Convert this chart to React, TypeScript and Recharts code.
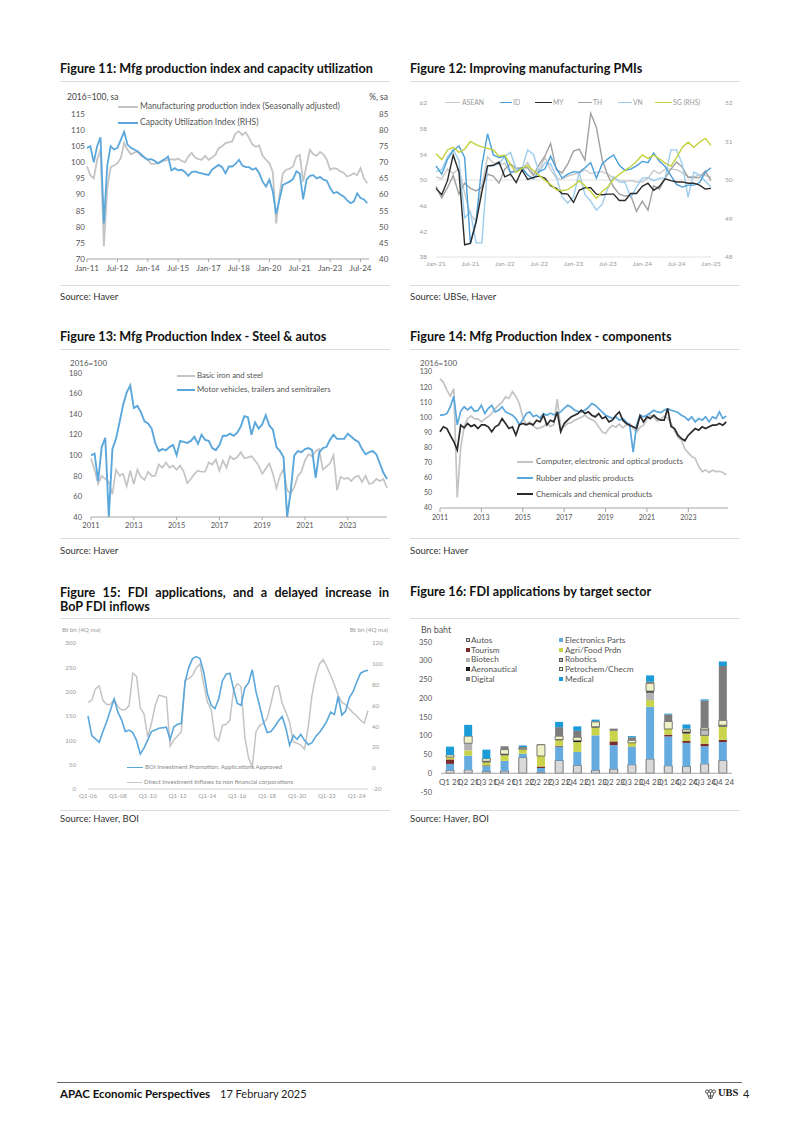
import React from "react";
import { LineChart, Line, BarChart, Bar, XAxis, YAxis, ReferenceLine } from "recharts";

const FONT = "Lato, 'Open Sans', 'DejaVu Sans', sans-serif";

// ---------- Figure 11: bi-monthly points, Jan-11 .. Nov-24 ----------
const fig11Mfg = [
  98.7, 96, 95, 100.8, 104, 74, 92, 98.5, 99, 99.7, 101.3, 106, 103.9, 102.5, 103, 103.4, 102, 101.5, 100.8, 99.5,
  99.5, 99.8, 100.3, 100.5, 100.8, 101, 100.8, 101.2, 100.5, 100, 101.8, 102.9, 101.5, 101, 100.8, 102, 100.8, 101.5, 102.3, 104.4,
  105, 106, 106.2, 106.5, 109, 109.6, 108.5, 109.3, 107.5, 105.5, 104.8, 105.2, 102, 100.8, 99.7, 97, 81, 90, 96.6, 97.7,
  98, 98.7, 101.8, 102.3, 94, 99, 103.9, 102.5, 102, 103.2, 102.5, 100.8, 97.7, 98.2, 98, 97.2, 96.8, 95.6, 96, 96.6,
  96, 98.2, 95, 93.5,
];
const fig11CapUtil = [
  74.5, 75, 70, 75, 77.8, 51, 69, 75, 74, 74.5, 77, 79.5, 75.5, 74.5, 74, 73.4, 72.5, 71.5, 70.8, 71,
  70.5, 69.7, 70.3, 71, 71.8, 67.5, 68.2, 67.5, 67.7, 67, 65.8, 67, 67.2, 66.8, 66.6, 66.3, 66.1, 67.7, 68.5, 69.2,
  68.5, 66.6, 68.7, 68.7, 69.5, 70.8, 69, 68.5, 68.5, 67.7, 68.2, 66.6, 64, 62.5, 64.6, 61, 54, 58.5, 63, 63.5,
  64, 64.8, 67.2, 66.5, 58.5, 64.6, 65.8, 66, 65, 65.5, 64.6, 64.3, 62, 60.4, 60.8, 60, 59.4, 58.3, 57.3, 57.8,
  60.4, 58.9, 58.5, 57.3,
];
const fig11Ticks = [0, 18, 36, 54, 72, 90, 108, 126, 144, 162];
const fig11TickLabels = ["Jan-11", "Jul-12", "Jan-14", "Jul-15", "Jan-17", "Jul-18", "Jan-20", "Jul-21", "Jan-23", "Jul-24"];

// ---------- Figure 12: monthly PMIs, Jan-21 .. Jan-25 ----------
const fig12Asean = [
  50.5, 50.2, 51.7, 51.0, 51.8, 48.0, 44.6, 43.6, 49.1, 53.6, 52.7, 52.4,
  52.6, 51.0, 51.9, 51.6, 52.8, 50.9, 51.6, 53.5, 51.6, 50.3, 50.1, 50.6,
  50.9, 51.1, 51.6, 51.0, 51.2, 51.3, 50.9, 50.3, 49.9, 49.8, 49.9, 49.7,
  49.7, 50.3, 51.5, 51.0, 51.7, 51.7, 51.6, 51.1, 50.5, 50.5, 50.8, 50.7, 50.4,
];
const fig12Id = [
  52.2, 50.9, 53.2, 54.6, 55.3, 53.5, 40.1, 43.7, 52.2, 57.2, 53.9, 53.5,
  53.7, 51.2, 51.3, 51.9, 50.8, 50.2, 51.3, 51.7, 53.7, 51.8, 50.3, 50.9,
  51.3, 51.2, 51.9, 52.7, 50.3, 52.5, 53.3, 53.9, 52.3, 51.5, 51.7, 52.2,
  52.9, 52.7, 54.2, 52.9, 52.1, 50.7, 49.3, 48.9, 49.2, 49.2, 49.6, 51.2, 51.9,
];
const fig12My = [
  48.7, 47.7, 49.9, 53.9, 51.3, 39.9, 40.1, 43.4, 48.1, 52.2, 52.3, 52.8,
  50.5, 50.9, 49.6, 51.6, 50.1, 50.4, 50.6, 50.3, 49.1, 48.7, 47.9, 47.8,
  46.5, 48.4, 48.8, 48.8, 47.8, 47.7, 47.8, 47.8, 46.8, 46.8, 47.9, 47.9,
  49.0, 49.5, 48.4, 49.0, 50.2, 49.9, 49.7, 49.7, 49.5, 49.5, 49.2, 48.6, 48.7,
];
const fig12Th = [
  49.0, 47.2, 48.8, 50.7, 47.8, 49.5, 48.7, 48.3, 48.9, 50.9, 50.6, 49.5,
  51.7, 52.5, 51.8, 51.9, 51.9, 50.7, 52.4, 53.7, 55.7, 51.6, 51.1, 52.5,
  54.5, 54.8, 53.1, 60.4, 58.2, 53.2, 50.7, 48.9, 47.8, 47.5, 47.6, 45.1,
  46.7, 45.3, 49.1, 48.6, 50.3, 51.7, 52.8, 52.0, 50.4, 50.4, 50.4, 51.4, 49.9,
];
const fig12Vn = [
  51.3, 51.6, 53.6, 54.7, 53.1, 44.1, 45.1, 40.2, 40.2, 52.1, 52.2, 52.5,
  53.7, 54.3, 51.7, 51.7, 54.7, 54.0, 51.2, 52.7, 52.5, 50.6, 47.4, 46.4,
  47.4, 51.2, 47.7, 46.7, 45.3, 46.2, 48.7, 50.5, 49.7, 49.6, 47.3, 48.9,
  50.3, 50.4, 49.9, 50.3, 50.3, 54.7, 54.7, 52.4, 47.3, 51.2, 50.8, 49.8, 48.9,
];
const fig12Sg = [
  50.68, 50.53, 50.78, 50.85, 50.72, 50.8, 51.0, 50.92, 50.86, 50.82, 50.78, 50.62,
  50.65, 50.4, 50.2, 50.3, 50.38, 50.24, 50.12, 50.0, 49.88, 49.75, 49.72, 49.75,
  49.85, 49.98, 49.85, 49.7, 49.52, 49.7, 49.82, 50.02, 50.15, 50.25, 50.35, 50.48,
  50.65, 50.56, 50.65, 50.55, 50.44, 50.36, 50.58, 50.85, 50.98, 50.85, 50.98, 51.08, 50.9,
];
const fig12Ticks = [0, 6, 12, 18, 24, 30, 36, 42, 48];
const fig12TickLabels = ["Jan-21", "Jul-21", "Jan-22", "Jul-22", "Jan-23", "Jul-23", "Jan-24", "Jul-24", "Jan-25"];

// ---------- Figure 13: bi-monthly, Jan-11 .. Nov-24 ----------
const fig13Steel = [
  97, 86, 72, 80, 77, 74, 62, 86, 80, 82, 70, 85, 72, 86, 79, 76, 84, 80, 80, 91,
  88, 93, 88, 90, 86, 90, 84, 73, 77, 82, 85, 84, 84, 93, 91, 96, 85, 95, 88, 99,
  96, 98, 103, 97, 98, 99, 95, 90, 82, 87, 92, 82, 68, 80, 87, 66, 63, 69, 80, 84,
  95, 101, 99, 104, 106, 86, 89, 92, 100, 66, 79, 77, 78, 75, 79, 80, 74, 80, 72, 73,
  77, 75, 77, 68,
];
const fig13Autos = [
  100, 101.5, 75, 108, 117, 40, 106, 116, 132, 149, 161, 168, 146, 148, 142, 133, 131, 126, 112, 104,
  106, 105, 108, 110, 100, 114, 113, 112, 114, 118, 111, 120, 115, 114, 107, 105, 110, 119, 119, 121,
  119, 122, 128, 138, 137, 120, 132, 126, 130, 139, 129, 125, 108, 104, 98, 40, 65, 100, 104, 103,
  106, 107, 105, 78, 103, 107, 108, 115, 120, 116, 116, 116, 121, 118, 115, 113, 106, 101, 103, 104,
  101, 92, 83, 77,
];
const yearTicks = [0, 24, 48, 72, 96, 120, 144];
const yearTickLabels = ["2011", "2013", "2015", "2017", "2019", "2021", "2023"];

// ---------- Figure 14: bi-monthly, Jan-11 .. Nov-24 ----------
const fig14Computer = [
  125.6, 123, 118, 114, 119, 47, 80, 94, 99, 101, 99, 99, 97, 99, 100.5, 102.5, 105.8, 108, 110, 113.5,
  112.5, 117, 114, 109, 100, 95, 97, 94.5, 92.6, 93, 94, 96, 94, 95, 112, 93, 94, 95.9, 96.5, 98,
  99, 100, 101.4, 99.5, 98.5, 97, 93.7, 90.4, 89.3, 92.6, 94.8, 93.5, 95.5, 93, 95, 95.9, 92.6, 90.4, 93.5, 94.8,
  99, 101.5, 100, 97.5, 98.7, 100.8, 99.5, 96, 91, 86.5, 85, 79, 76.5, 74, 72.9, 67.4, 64.1, 65.2, 63.5, 65,
  64.1, 64.3, 63.5, 62,
];
const fig14Rubber = [
  101.4, 101.6, 102.5, 107, 114, 95, 104, 107, 105, 107, 104, 104.5, 108, 102.5, 106, 108, 103.6, 104.7, 107, 103.6,
  102.5, 101.4, 99.2, 95, 98.5, 102.5, 103.6, 100.5, 101.4, 99.5, 102.5, 101.4, 102.8, 101.7, 102.5, 103.6, 106, 108, 106.8, 104.7,
  104, 103.6, 104.7, 106.5, 109.1, 108, 105.8, 103.6, 101.4, 100.3, 99.2, 100.3, 98.1, 99.2, 97, 94.8, 77, 94.8, 101.4, 100.3,
  101.4, 103, 104.7, 103.6, 103.2, 104.7, 105.8, 104.7, 104, 103.2, 101.4, 100.3, 98.1, 100.3, 97, 99.2, 98.1, 100.3, 97, 100.3,
  99.2, 103.6, 99.2, 101,
];
const fig14Chemicals = [
  90.4, 93.7, 92.6, 88, 84, 78.4, 94.8, 93, 95.9, 94, 95, 92.6, 95, 95, 93.7, 90.4, 93.7, 95, 99.2, 95.9,
  92.6, 93.7, 88.2, 95, 95.9, 95, 95.9, 95, 98.1, 97, 101.4, 95, 98.1, 97, 103.6, 90.4, 95.9, 98.1, 100.3, 101.4,
  102.5, 104.7, 102.5, 103.6, 101.4, 100.3, 102.5, 99.2, 100.3, 97, 98.1, 101.4, 103.6, 98.1, 95.9, 94.8, 93.7, 92.6, 101, 97,
  100.3, 99.2, 101.4, 99.2, 98.1, 98.1, 105.8, 94, 92.6, 88.2, 86, 84.5, 88.2, 90.4, 92.6, 91.5, 93.7, 92.6, 93.7, 94.8,
  94.8, 95.9, 94.8, 97,
];

// ---------- Figure 15: quarterly, Q1-06 .. Q4-24 ----------
const fig15Boi = [
  150, 110, 103, 96, 118, 138, 162, 185, 158, 142, 118, 121, 116, 100, 72, 84, 101, 118, 121, 125,
  126, 127, 102, 128, 133, 135, 220, 250, 268, 272, 268, 240, 195, 172, 165, 185, 222, 236, 238, 205,
  176, 172, 208, 218, 245, 200, 170, 138, 116, 118, 128, 140, 149, 125, 90, 110, 102, 112, 100, 91,
  95, 108, 116, 127, 140, 158, 153, 190, 152, 160, 188, 200, 220, 238, 242, 244,
];
const fig15Inflows = [
  63, 65, 76, 79, 65, 61, 61, 66, 59, 56, 56, 60, 91, 88, 58, 52, 30, 43, 60, 70,
  69, 68, 21, 27, 31, 35, 84, 86, 89, 96, 100, 80, 63, 56, 30, 26, 41, 42, 46, 75,
  81, 78, 30, 10, 1, 35, 41, 43, 48, 62, 78, 79, 62, 54, 44, 25, 24, 22, 18, 40,
  70, 88, 100, 104, 97, 89, 80, 70, 63, 61, 57, 53, 50, 46, 43, 55,
];
const fig15Ticks = [0, 8, 16, 24, 32, 40, 48, 56, 64, 72];
const fig15TickLabels = ["Q1-06", "Q1-08", "Q1-10", "Q1-12", "Q1-14", "Q1-16", "Q1-18", "Q1-20", "Q1-22", "Q1-24"];

// ---------- Figure 16: FDI applications by sector, Bn baht ----------
const fig16Quarters = [
  "Q1 21", "Q2 21", "Q3 21", "Q4 21", "Q1 22", "Q2 22", "Q3 22", "Q4 22",
  "Q1 23", "Q2 23", "Q3 23", "Q4 23", "Q1 24", "Q2 24", "Q3 24", "Q4 24",
];
const fig16Autos = [8, 9, 5, 6, 42, 3, 34, 21, 8, 11, 23, 38, 20, 18, 25, 34];
const fig16Electronics = [17, 38, 14, 27, 10, 11, 37, 36, 93, 64, 47, 139, 78, 63, 47, 49];
const fig16Tourism = [12, 0, 2, 0, 0, 4, 2, 0, 0, 10, 1, 0, 5, 5, 7, 6];
const fig16Agri = [6, 14, 8, 15, 12, 28, 15, 26, 21, 28, 10, 18, 15, 20, 22, 36];
const fig16Biotech = [0, 19, 0, 0, 0, 0, 0, 0, 0, 0, 0, 20, 0, 0, 0, 0];
const fig16Robotics = [0, 0, 0, 0, 0, 0, 0, 0, 0, 0, 0, 0, 0, 0, 15, 3];
const fig16Aero = [0, 0, 3, 3, 0, 0, 2, 4, 2, 0, 0, 4, 0, 4, 0, 0];
const fig16Petro = [6, 19, 7, 12, 3, 30, 9, 9, 13, 0, 7, 21, 20, 6, 5, 13];
const fig16Digital = [0, 0, 0, 9, 3, 2, 24, 17, 2, 6, 8, 4, 19, 3, 73, 145];
const fig16Medical = [22, 30, 24, 0, 4, 0, 14, 12, 4, 0, 3, 17, 2, 11, 3, 12];

const fmt = (ticks: number[], labels: string[]) => (v: number) => labels[ticks.indexOf(v)] ?? "";

const BLUE = "#5aa7db";
const GREY = "#c4c4c4";
const TITLE = 12.6;

function T({ x, y, size, color = "#333", bold, right, family, children }: any) {
  return (
    <div
      style={{
        position: "absolute",
        left: x,
        top: y - size * 0.53,
        fontSize: size,
        lineHeight: `${size}px`,
        color,
        fontWeight: bold ? 700 : 400,
        whiteSpace: "nowrap",
        transform: right ? "translateX(-100%)" : undefined,
        fontFamily: family,
      }}
    >
      {children}
    </div>
  );
}

function HLine({ x1, x2, y, color = "#dcdcdc", w = 1 }: any) {
  return <div style={{ position: "absolute", left: x1, top: y - w / 2, width: x2 - x1, height: w, background: color }} />;
}

function LegendLine({ x1, x2, y, color, w = 1.8, tx, label, size, textColor = "#555" }: any) {
  return (
    <>
      <HLine x1={x1} x2={x2} y={y} color={color} w={w} />
      <T x={tx} y={y} size={size} color={textColor}>{label}</T>
    </>
  );
}

function Fig11() {
  const data = fig11Mfg.map((v, i) => ({ m: i * 2, mfg: v, cu: fig11CapUtil[i] }));
  const tick = { fill: "#555", fontSize: 8 };
  return (
    <div style={{ position: "absolute", left: 55, top: 90 }}>
      <LineChart width={345} height={190} data={data} margin={{ top: 24, right: 0, bottom: 0, left: 0 }}>
        <XAxis dataKey="m" type="number" domain={[0, 167]} ticks={fig11Ticks} interval={0}
          tickFormatter={fmt(fig11Ticks, fig11TickLabels)} height={21} tickSize={3} tickMargin={3}
          stroke="#a6a6a6" tick={tick} />
        <YAxis yAxisId="l" domain={[70, 115]} ticks={[70, 75, 80, 85, 90, 95, 100, 105, 110, 115]} interval={0}
          width={32} axisLine={false} tickLine={false} tickSize={0} tickMargin={2} tick={tick} />
        <YAxis yAxisId="r" orientation="right" domain={[40, 85]} ticks={[40, 45, 50, 55, 60, 65, 70, 75, 80, 85]} interval={0}
          width={31} axisLine={false} tickLine={false} tickSize={0} tickMargin={10} tick={tick} />
        <Line yAxisId="l" dataKey="mfg" stroke={GREY} strokeWidth={1.8} dot={false} isAnimationActive={false} />
        <Line yAxisId="r" dataKey="cu" stroke={BLUE} strokeWidth={1.8} dot={false} isAnimationActive={false} />
      </LineChart>
    </div>
  );
}

function Fig12() {
  const data = fig12Id.map((v, i) => ({
    m: i, asean: fig12Asean[i], id: v, my: fig12My[i], th: fig12Th[i], vn: fig12Vn[i], sg: fig12Sg[i],
  }));
  const tick = { fill: "#9a9a9a", fontSize: 6.5 };
  return (
    <div style={{ position: "absolute", left: 405, top: 90 }}>
      <LineChart width={340} height={183} data={data} margin={{ top: 13, right: 0, bottom: 0, left: 0 }}>
        <XAxis dataKey="m" type="number" domain={[0, 48]} ticks={fig12Ticks} interval={0}
          tickFormatter={fmt(fig12Ticks, fig12TickLabels)} height={16} tickLine={false} tickSize={0} tickMargin={4}
          stroke="#e2e2e2" tick={tick} />
        <YAxis yAxisId="l" domain={[38, 62]} ticks={[38, 42, 46, 50, 54, 58, 62]} interval={0}
          width={31} axisLine={false} tickLine={false} tickSize={0} tickMargin={9} tick={tick} />
        <YAxis yAxisId="r" orientation="right" domain={[48, 52]} ticks={[48, 49, 50, 51, 52]} interval={0}
          width={34} axisLine={false} tickLine={false} tickSize={0} tickMargin={14} tick={tick} />
        <ReferenceLine yAxisId="l" y={50} stroke="#e0e0e0" strokeWidth={1} />
        <Line yAxisId="l" dataKey="asean" stroke="#c9c9c9" strokeWidth={1.4} dot={false} isAnimationActive={false} />
        <Line yAxisId="l" dataKey="th" stroke="#a0a0a0" strokeWidth={1.4} dot={false} isAnimationActive={false} />
        <Line yAxisId="l" dataKey="vn" stroke="#9ccced" strokeWidth={1.4} dot={false} isAnimationActive={false} />
        <Line yAxisId="l" dataKey="id" stroke="#4b9fd8" strokeWidth={1.4} dot={false} isAnimationActive={false} />
        <Line yAxisId="l" dataKey="my" stroke="#2b2b2b" strokeWidth={1.4} dot={false} isAnimationActive={false} />
        <Line yAxisId="r" dataKey="sg" stroke="#c4d13c" strokeWidth={1.4} dot={false} isAnimationActive={false} />
      </LineChart>
    </div>
  );
}

function Fig13() {
  const data = fig13Steel.map((v, i) => ({ m: i * 2, steel: v, autos: fig13Autos[i] }));
  const tick = { fill: "#555", fontSize: 7.5 };
  return (
    <div style={{ position: "absolute", left: 55, top: 355 }}>
      <LineChart width={345} height={180} data={data} margin={{ top: 18, right: 13, bottom: 0, left: 0 }}>
        <XAxis dataKey="m" type="number" domain={[0, 166]} ticks={yearTicks} interval={0}
          tickFormatter={fmt(yearTicks, yearTickLabels)} height={18} tickSize={3} tickMargin={3}
          stroke="#a6a6a6" tick={tick} />
        <YAxis domain={[40, 180]} ticks={[40, 60, 80, 100, 120, 140, 160, 180]} interval={0}
          width={36} axisLine={false} tickLine={false} tickSize={0} tickMargin={9} tick={tick} />
        <Line dataKey="steel" stroke={GREY} strokeWidth={1.7} dot={false} isAnimationActive={false} />
        <Line dataKey="autos" stroke={BLUE} strokeWidth={1.9} dot={false} isAnimationActive={false} />
      </LineChart>
    </div>
  );
}

function Fig14() {
  const data = fig14Computer.map((v, i) => ({ m: i * 2, comp: v, rub: fig14Rubber[i], chem: fig14Chemicals[i] }));
  const tick = { fill: "#555", fontSize: 7 };
  return (
    <div style={{ position: "absolute", left: 405, top: 355 }}>
      <LineChart width={340} height={172} data={data} margin={{ top: 17, right: 17, bottom: 0, left: 0 }}>
        <XAxis dataKey="m" type="number" domain={[0, 167]} ticks={yearTicks} interval={0}
          tickFormatter={fmt(yearTicks, yearTickLabels)} height={19} tickSize={4} tickMargin={3}
          stroke="#a6a6a6" tick={tick} />
        <YAxis domain={[40, 130]} ticks={[40, 50, 60, 70, 80, 90, 100, 110, 120, 130]} interval={0}
          width={35} axisLine={false} tickLine={false} tickSize={0} tickMargin={8} tick={tick} />
        <Line dataKey="comp" stroke={GREY} strokeWidth={1.7} dot={false} isAnimationActive={false} />
        <Line dataKey="rub" stroke={BLUE} strokeWidth={1.7} dot={false} isAnimationActive={false} />
        <Line dataKey="chem" stroke="#2b2b2b" strokeWidth={1.7} dot={false} isAnimationActive={false} />
      </LineChart>
    </div>
  );
}

function Fig15() {
  const data = fig15Boi.map((v, i) => ({ q: i, boi: v, inf: fig15Inflows[i] }));
  const tick = { fill: "#9a9a9a", fontSize: 6.2 };
  return (
    <div style={{ position: "absolute", left: 55, top: 637 }}>
      <LineChart width={345} height={170} data={data} margin={{ top: 6, right: 0, bottom: 0, left: 0 }}>
        <XAxis dataKey="q" type="number" domain={[0, 75]} ticks={fig15Ticks} interval={0}
          tickFormatter={fmt(fig15Ticks, fig15TickLabels)} height={18} tickLine={false} tickSize={0} tickMargin={5}
          stroke="#d0d0d0" tick={tick} />
        <YAxis yAxisId="l" domain={[0, 300]} ticks={[0, 50, 100, 150, 200, 250, 300]} interval={0}
          width={33} axisLine={false} tickLine={false} tickSize={0} tickMargin={12} tick={tick} />
        <YAxis yAxisId="r" orientation="right" domain={[-20, 120]} ticks={[-20, 0, 20, 40, 60, 80, 100, 120]} interval={0}
          width={32} axisLine={false} tickLine={false} tickSize={0} tickMargin={4} tick={tick} />
        <Line yAxisId="r" dataKey="inf" stroke={GREY} strokeWidth={1.5} dot={false} isAnimationActive={false} />
        <Line yAxisId="l" dataKey="boi" stroke={BLUE} strokeWidth={1.6} dot={false} isAnimationActive={false} />
      </LineChart>
    </div>
  );
}

const QuarterTick = (props: any) => {
  const { x, y, payload } = props;
  return (
    <text x={x} y={y - 10} textAnchor="middle" dominantBaseline="central" fontSize={8} fill="#555">
      {payload.value}
    </text>
  );
};

const fig16Series = [
  { key: "autos", label: "Autos", fill: "#d9d9d9", stroke: "#5a5a5a" },
  { key: "elec", label: "Electronics Parts", fill: "#66abdf" },
  { key: "tourism", label: "Tourism", fill: "#7a2b2b" },
  { key: "agri", label: "Agri/Food Prdn", fill: "#c9d44c" },
  { key: "biotech", label: "Biotech", fill: "#b3b3b3" },
  { key: "robotics", label: "Robotics", fill: "#bdbdbd", stroke: "#5a5a5a" },
  { key: "aero", label: "Aeronautical", fill: "#1c1c1c" },
  { key: "petro", label: "Petrochem/Checm", fill: "#eff1c6", stroke: "#5a5a5a" },
  { key: "digital", label: "Digital", fill: "#7c7c7c" },
  { key: "medical", label: "Medical", fill: "#1b9bd7" },
];

function Fig16() {
  const data = fig16Quarters.map((q, i) => ({
    q,
    autos: fig16Autos[i], elec: fig16Electronics[i], tourism: fig16Tourism[i], agri: fig16Agri[i],
    biotech: fig16Biotech[i], robotics: fig16Robotics[i], aero: fig16Aero[i], petro: fig16Petro[i],
    digital: fig16Digital[i], medical: fig16Medical[i],
  }));
  const tick = { fill: "#555", fontSize: 7.5 };
  return (
    <div style={{ position: "absolute", left: 405, top: 637 }}>
      <BarChart width={340} height={170} data={data} margin={{ top: 5, right: 13, bottom: 0, left: 0 }} barSize={8}>
        <XAxis dataKey="q" interval={0} axisLine={false} tickLine={false} tickSize={0} tickMargin={0} height={15}
          tick={<QuarterTick />} />
        <YAxis domain={[-50, 350]} ticks={[-50, 0, 50, 100, 150, 200, 250, 300, 350]} interval={0}
          width={36} axisLine={false} tickLine={false} tickSize={0} tickMargin={9} tick={tick} />
        <ReferenceLine y={0} stroke="#a6a6a6" />
        {fig16Series.map((s) => (
          <Bar key={s.key} dataKey={s.key} stackId="a" fill={s.fill}
            stroke={s.stroke} strokeWidth={s.stroke ? 0.8 : 0} isAnimationActive={false} />
        ))}
      </BarChart>
    </div>
  );
}

function Fig16Legend() {
  const col1 = ["autos", "tourism", "biotech", "aero", "digital"];
  const col2 = ["elec", "agri", "robotics", "petro", "medical"];
  const rows = [640, 650, 659.7, 669.3, 679];
  const item = (key: string, mx: number, tx: number, y: number) => {
    const s = fig16Series.find((d) => d.key === key)!;
    return (
      <React.Fragment key={key}>
        <div style={{ position: "absolute", left: mx, top: y - 2.2, width: 4.4, height: 4.4, background: s.fill,
          boxSizing: "border-box", border: s.stroke ? `0.8px solid ${s.stroke}` : undefined }} />
        <T x={tx} y={y} size={8.3} color="#555">{s.label}</T>
      </React.Fragment>
    );
  };
  return (
    <>
      {col1.map((k, i) => item(k, 465.5, 471, rows[i]))}
      {col2.map((k, i) => item(k, 559, 565, rows[i]))}
    </>
  );
}

function Logo() {
  return (
    <svg width="13" height="11" style={{ position: "absolute", left: 704, top: 1089 }}>
      <g stroke="#444" strokeWidth="0.9" fill="none">
        <circle cx="3" cy="2.5" r="1.6" />
        <circle cx="6.5" cy="2" r="1.6" />
        <circle cx="10" cy="2.5" r="1.6" />
        <path d="M3 4 L5.5 10 M6.5 3.6 L6.5 10 M10 4 L7.5 10 M4 7 L9 7" />
      </g>
    </svg>
  );
}

export default function App() {
  return (
    <div style={{ position: "absolute", left: 0, top: 0, width: 802, height: 1134, background: "#fff", fontFamily: FONT, color: "#222" }}>
      {/* Titles */}
      <T x={60} y={70} size={TITLE} bold color="#111">Figure 11: Mfg production index and capacity utilization</T>
      <T x={410} y={70} size={TITLE} bold color="#111">Figure 12: Improving manufacturing PMIs</T>
      <T x={60} y={338} size={TITLE} bold color="#111">Figure 13: Mfg Production Index - Steel &amp; autos</T>
      <T x={410} y={338} size={TITLE} bold color="#111">Figure 14: Mfg Production Index - components</T>
      <div style={{ position: "absolute", left: 60, top: 586, width: 329, fontSize: TITLE, lineHeight: "14px", fontWeight: 700, color: "#111" }}>
        <div style={{ textAlign: "justify", textAlignLast: "justify" as any, whiteSpace: "nowrap" }}>Figure 15: FDI applications, and a delayed increase in</div>
        <div>BoP FDI inflows</div>
      </div>
      <T x={410} y={593} size={TITLE} bold color="#111">Figure 16: FDI applications by target sector</T>

      <HLine x1={60} x2={390} y={81} />
      <HLine x1={410} x2={740} y={81} />
      <HLine x1={60} x2={390} y={349} />
      <HLine x1={410} x2={740} y={349} />
      <HLine x1={60} x2={390} y={618} />
      <HLine x1={410} x2={740} y={618} />

      {/* Figure 11 */}
      <T x={67} y={98} size={8.5} color="#444">2016=100, sa</T>
      <T x={388} y={98} size={8.5} color="#444" right>%, sa</T>
      <Fig11 />
      <LegendLine x1={118} x2={138} y={106.7} color={GREY} tx={140} size={8.5} label="Manufacturing production index (Seasonally adjusted)" />
      <LegendLine x1={118} x2={138} y={122.7} color={BLUE} tx={140} size={8.5} label="Capacity Utilization Index (RHS)" />

      {/* Figure 12 */}
      <Fig12 />
      <LegendLine x1={445} x2={460} y={102.7} color="#c9c9c9" w={1.5} tx={462} size={6.8} textColor="#999" label="ASEAN" />
      <LegendLine x1={500} x2={512} y={102.7} color="#4b9fd8" w={1.5} tx={513} size={6.8} textColor="#999" label="ID" />
      <LegendLine x1={535} x2={552} y={102.7} color="#2b2b2b" w={1.5} tx={553} size={6.8} textColor="#999" label="MY" />
      <LegendLine x1={578} x2={592} y={102.7} color="#a0a0a0" w={1.5} tx={593} size={6.8} textColor="#999" label="TH" />
      <LegendLine x1={618} x2={632} y={102.7} color="#9ccced" w={1.5} tx={633} size={6.8} textColor="#999" label="VN" />
      <LegendLine x1={655} x2={672} y={102.7} color="#c4d13c" w={1.5} tx={673} size={6.8} textColor="#999" label="SG (RHS)" />

      {/* Figure 13 */}
      <T x={70} y={363} size={8} color="#555">2016=100</T>
      <Fig13 />
      <LegendLine x1={177} x2={195} y={375.7} color={GREY} tx={197} size={7.8} label="Basic iron and steel" />
      <LegendLine x1={177} x2={195} y={390} color={BLUE} tx={197} size={7.8} label="Motor vehicles, trailers and semitrailers" />

      {/* Figure 14 */}
      <T x={420} y={363} size={8} color="#555">2016=100</T>
      <Fig14 />
      <LegendLine x1={517} x2={533} y={461.7} color={GREY} tx={536} size={8} label="Computer, electronic and optical products" />
      <LegendLine x1={517} x2={533} y={478.3} color={BLUE} tx={536} size={8} label="Rubber and plastic products" />
      <LegendLine x1={517} x2={533} y={494} color="#2b2b2b" tx={536} size={8} label="Chemicals and chemical products" />

      {/* Figure 15 */}
      <T x={62} y={630.7} size={6.3} color="#999">Bt bn (4Q ma)</T>
      <T x={388} y={630.7} size={6.3} color="#999" right>Bt bn (4Q ma)</T>
      <Fig15 />
      <LegendLine x1={127} x2={143} y={767.3} color={BLUE} w={1.4} tx={145} size={6.2} textColor="#888" label="BOI Investment Promotion: Applications Approved" />
      <LegendLine x1={127} x2={142} y={782.3} color={GREY} w={1.4} tx={144} size={6.2} textColor="#888" label="Direct Investment Inflows to non financial corporations" />

      {/* Figure 16 */}
      <T x={421} y={631} size={8.8} color="#555">Bn baht</T>
      <Fig16 />
      <Fig16Legend />

      {/* Sources */}
      <HLine x1={60} x2={390} y={285.5} />
      <HLine x1={410} x2={740} y={285.5} />
      <T x={60} y={297} size={9.5} color="#333">Source: Haver</T>
      <T x={410} y={297} size={9.5} color="#333">Source: UBSe, Haver</T>
      <HLine x1={60} x2={390} y={538.3} />
      <HLine x1={410} x2={740} y={538.3} />
      <T x={60} y={551} size={9.5} color="#333">Source: Haver</T>
      <T x={410} y={551} size={9.5} color="#333">Source: Haver</T>
      <HLine x1={60} x2={390} y={810.5} />
      <HLine x1={410} x2={740} y={810.5} />
      <T x={60} y={819.5} size={9.5} color="#333">Source: Haver, BOI</T>
      <T x={410} y={819.5} size={9.5} color="#333">Source: Haver, BOI</T>

      {/* Footer */}
      <HLine x1={57} x2={742} y={1082.5} color="#666" />
      <T x={60} y={1094} size={11.5} bold color="#111">APAC Economic Perspectives</T>
      <T x={220} y={1094} size={11} color="#222">17 February 2025</T>
      <Logo />
      <T x={718} y={1094} size={10.5} bold color="#222" family="'Liberation Serif', 'DejaVu Serif', serif">UBS</T>
      <T x={743} y={1094} size={11} color="#222">4</T>
    </div>
  );
}
